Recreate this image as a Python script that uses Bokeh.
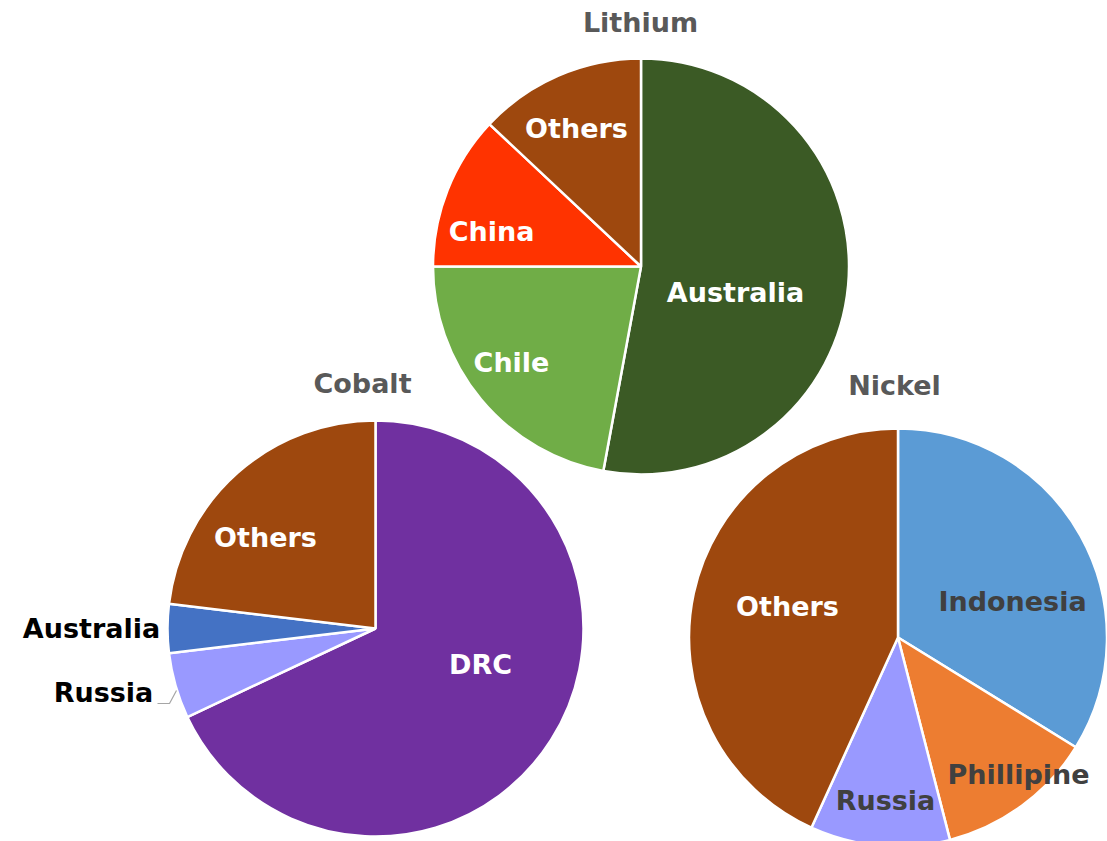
import math
from bokeh.plotting import figure
from bokeh.models import ColumnDataSource, Range1d
from bokeh.core.properties import value
from bokeh.embed import file_html
from bokeh.resources import INLINE

# ---- data (shares, %) ----
lithium_countries = ["Australia", "Chile", "China", "Others"]
lithium_shares = [52.9, 22.1, 12.0, 13.0]
lithium_colors = ["#3B5A25", "#70AD47", "#FF3300", "#9E480E"]

cobalt_countries = ["DRC", "Russia", "Australia", "Others"]
cobalt_shares = [68.0, 5.1, 3.8, 23.1]
cobalt_colors = ["#7030A0", "#9999FF", "#4472C4", "#9E480E"]

nickel_countries = ["Indonesia", "Phillipine", "Russia", "Others"]
nickel_shares = [33.8, 12.2, 10.8, 43.2]
nickel_colors = ["#5B9BD5", "#ED7D31", "#9999FF", "#9E480E"]

W, H = 1107, 841
FONT = "DejaVu Sans"
FSIZE = "27px"

p = figure(width=W, height=H, output_backend="svg", toolbar_location=None,
           x_range=Range1d(0, W), y_range=Range1d(0, H), min_border=0)
p.axis.visible = False
p.grid.visible = False
p.outline_line_color = None
p.background_fill_color = "white"
p.border_fill_color = "white"


def Y(py):
    # convert a top-down pixel position to the bottom-up data axis
    return H - py


def pie(title, countries, shares, colors, cx, cy, r, title_pos, label_pos, label_colors):
    total = sum(shares)
    starts, ends = [], []
    acc = 0.0
    for s in shares:
        a0 = math.pi / 2 - acc / total * 2 * math.pi
        acc += s
        a1 = math.pi / 2 - acc / total * 2 * math.pi
        # clockwise slice from a0 to a1 -> anticlockwise from a1 to a0
        starts.append(a1)
        ends.append(a0)
    src = ColumnDataSource(dict(x=[cx] * len(shares), y=[Y(cy)] * len(shares),
                                start=starts, end=ends, color=colors,
                                name=countries))
    p.wedge(x="x", y="y", radius=r, radius_units="screen", start_angle="start",
            end_angle="end", fill_color="color", line_color="white",
            line_width=2.5, source=src)
    lx = [lp[0] for lp in label_pos]
    ly = [Y(lp[1]) for lp in label_pos]
    lsrc = ColumnDataSource(dict(x=lx, y=ly, text=countries, c=label_colors))
    p.text(x="x", y="y", text="text", text_color="c", source=lsrc,
           text_font=value(FONT), text_font_style="bold", text_font_size=FSIZE,
           text_align="center", text_baseline="middle")
    p.text(x=[title_pos[0]], y=[Y(title_pos[1])], text=[title], text_color="#595959",
           text_font=value(FONT), text_font_style="bold", text_font_size=FSIZE,
           text_align="center", text_baseline="middle")


pie("Lithium", lithium_countries, lithium_shares, lithium_colors,
    640.5, 266, 208, (640, 22),
    [(735, 292), (511, 362), (491, 231), (576, 128)],
    ["white", "white", "white", "white"])

pie("Cobalt", cobalt_countries, cobalt_shares, cobalt_colors,
    375, 628, 208, (362, 383),
    [(480, 664), (103, 692), (91, 628), (265, 537)],
    ["white", "black", "black", "white"])

pie("Nickel", nickel_countries, nickel_shares, nickel_colors,
    897.5, 637, 209, (894, 385),
    [(1012, 601), (1018, 774), (885, 800), (787, 606)],
    ["#404040", "#404040", "#404040", "white"])

# leader line for Cobalt Russia label
p.line(x=[157, 169, 176], y=[Y(703), Y(703), Y(690)], line_color="#A6A6A6", line_width=1.2)

open("out.html", "w").write(file_html(p, INLINE))
